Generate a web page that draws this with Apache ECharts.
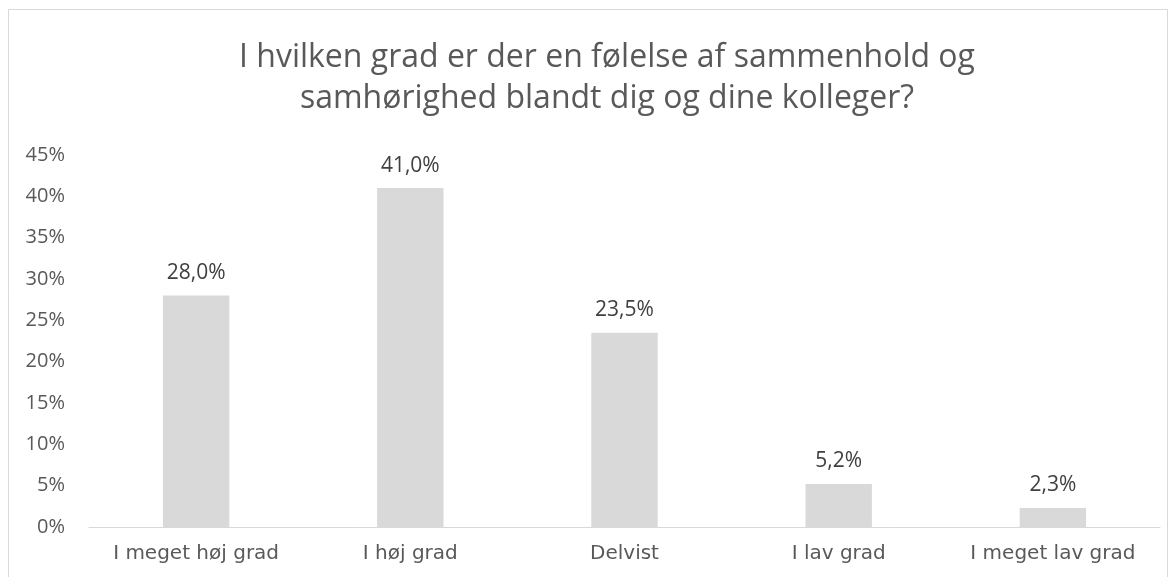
<!DOCTYPE html>
<html><head><meta charset="utf-8">
<script src="https://cdn.jsdelivr.net/npm/echarts@6/dist/echarts.min.js"></script>
<style>html,body{margin:0;padding:0;background:#fff}#c{width:1176px;height:577px}</style>
</head><body><div id="c"></div>
<script>
const categories = ['I meget høj grad', 'I høj grad', 'Delvist', 'I lav grad', 'I meget lav grad'];
const values = [28.0, 41.0, 23.5, 5.2, 2.3];
const titleLines = ['I hvilken grad er der en følelse af sammenhold og', 'samhørighed blandt dig og dine kolleger?'];

const chart = echarts.init(document.getElementById('c'));
chart.setOption({
  animation: false,
  backgroundColor: '#fff',
  title: {
    text: titleLines.join('\n'),
    left: 602, top: 32, textAlign: 'center',
    textStyle: { fontFamily: 'Open Sans', fontWeight: 'normal', fontSize: 32, color: '#595959', lineHeight: 41 }
  },
  graphic: [{ type: 'rect', silent: true, shape: { x: 8.5, y: 9.5, width: 1159, height: 620 }, style: { fill: 'none', stroke: '#d9d9d9', lineWidth: 1 } }],
  grid: { left: 89, right: 16, top: 155, bottom: 50 },
  xAxis: {
    type: 'category', data: categories,
    axisLine: { lineStyle: { color: '#d9d9d9', width: 1 } },
    axisTick: { show: false },
    axisLabel: { interval: 0, fontFamily: 'DejaVu Sans', fontSize: 20, color: '#595959', margin: 17 }
  },
  yAxis: {
    type: 'value', min: 0, max: 45, interval: 5,
    splitLine: { show: false }, axisLine: { show: false }, axisTick: { show: false },
    axisLabel: { formatter: v => v + '%', fontFamily: 'Open Sans', fontSize: 20, color: '#595959', margin: 24 }
  },
  series: [{
    type: 'bar', data: values, barWidth: '31%',
    itemStyle: { color: '#d9d9d9' },
    label: { show: true, position: 'top', distance: 12, formatter: p => p.value.toFixed(1).replace('.', ',') + '%', fontFamily: 'Open Sans', fontSize: 21, color: '#404040' }
  }]
});
</script></body></html>
